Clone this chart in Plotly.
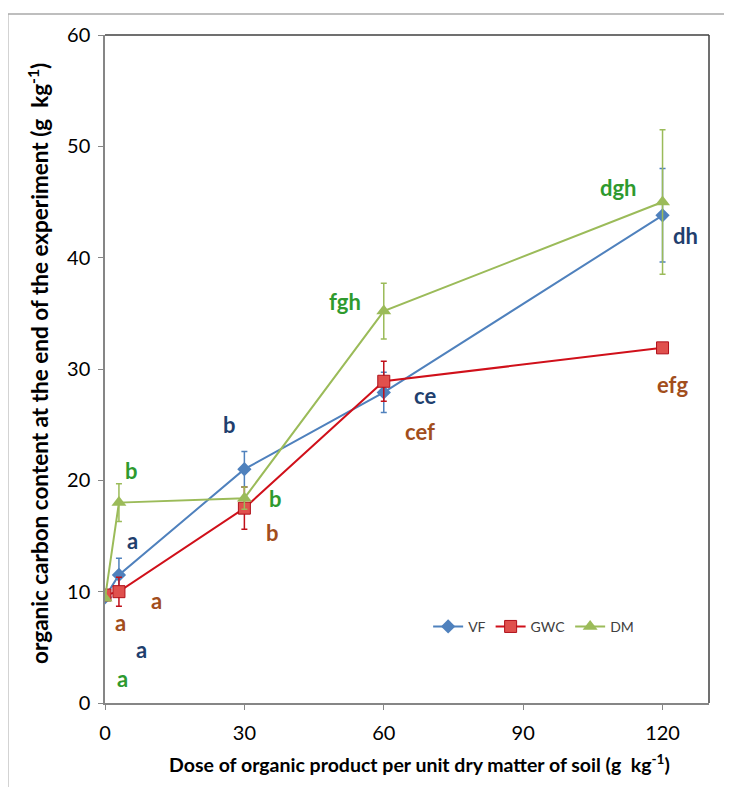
import plotly.graph_objects as go

dose = [0, 3, 30, 60, 120]

vf = [9.5, 11.5, 21.0, 27.9, 43.8]
vf_err = [0, 1.5, 1.6, 1.8, 4.2]

gwc = [9.7, 10.0, 17.5, 28.9, 31.9]
gwc_err = [0, 1.3, 1.9, 1.8, 0.4]

dm = [9.4, 18.0, 18.4, 35.2, 45.0]
dm_err = [0, 1.7, 1.0, 2.5, 6.5]

# significance letters: (x, y, text, group)
letters_x = [5.6, 6.0, 11.0, 3.4, 7.8, 3.7, 26.7, 36.8, 36.0, 51.7, 68.9, 67.8, 110.5, 124.9, 122.1]
letters_y = [20.9, 14.6, 9.2, 7.2, 4.8, 2.2, 25.0, 18.4, 15.3, 36.1, 27.6, 24.4, 46.3, 42.0, 28.6]
letters_t = ["b", "a", "a", "a", "a", "a", "b", "b", "b", "fgh", "ce", "cef", "dgh", "dh", "efg"]
letters_g = ["DM", "VF", "GWC", "GWC", "VF", "DM", "VF", "DM", "GWC", "DM", "VF", "GWC", "DM", "VF", "GWC"]

text_colors = {"VF": "#1F3F6E", "GWC": "#A24E1C", "DM": "#2E9A2E"}

fig = go.Figure()

fig.add_trace(go.Scatter(
    x=dose, y=vf, name="VF", mode="lines+markers",
    line=dict(color="#4F81BD", width=2),
    marker=dict(symbol="diamond", size=11, color="#4F81BD"),
    error_y=dict(type="data", array=vf_err, color="#4F81BD", thickness=1.5, width=3),
))
fig.add_trace(go.Scatter(
    x=dose, y=gwc, name="GWC", mode="lines+markers",
    line=dict(color="#D0101A", width=2),
    marker=dict(symbol="square", size=12, color="#E0504D", line=dict(color="#B0101A", width=1)),
    error_y=dict(type="data", array=gwc_err, color="#C0101A", thickness=1.5, width=3),
))
fig.add_trace(go.Scatter(
    x=dose, y=dm, name="DM", mode="lines+markers",
    line=dict(color="#9BBB59", width=2),
    marker=dict(symbol="triangle-up", size=13, color="#9BBB59"),
    error_y=dict(type="data", array=dm_err, color="#9BBB59", thickness=1.5, width=3),
))

for x, y, t, g in zip(letters_x, letters_y, letters_t, letters_g):
    fig.add_annotation(x=x, y=y, text="<b>%s</b>" % t, showarrow=False,
                       font=dict(family="Lato, Open Sans, sans-serif", size=22, color=text_colors[g]))

# axis titles
fig.add_annotation(xref="paper", yref="paper", x=-0.111, y=0.509,
                   xanchor="center", yanchor="middle",
                   text="<b>organic carbon content at the end of the experiment (g  kg<sup>-1</sup>)</b>",
                   textangle=-90, showarrow=False,
                   font=dict(family="Lato, Open Sans, sans-serif", size=22.5, color="#000000"))
fig.add_annotation(xref="paper", yref="paper", x=0.5215, y=-0.09,
                   xanchor="center", yanchor="middle",
                   text="<b>Dose of organic product per unit dry matter of soil (g  kg<sup>-1</sup>)</b>",
                   showarrow=False,
                   font=dict(family="Lato, Open Sans, sans-serif", size=19.5, color="#000000"))

# plot area top/right border
fig.add_shape(type="line", xref="paper", yref="paper", x0=0, x1=1, y0=1, y1=1,
              line=dict(color="#404040", width=1.5))
fig.add_shape(type="line", xref="paper", yref="paper", x0=1, x1=1, y0=0, y1=1,
              line=dict(color="#404040", width=1.5))
# outer chart frame
fig.add_shape(type="line", xref="paper", yref="paper", x0=-0.161, x1=1.1, y0=1.0314, y1=1.0314,
              line=dict(color="#A8A8A8", width=1.5))
fig.add_shape(type="line", xref="paper", yref="paper", x0=-0.161, x1=-0.161, y0=-0.2, y1=1.0314,
              line=dict(color="#A8A8A8", width=1.5))

fig.update_layout(
    width=732, height=787,
    margin=dict(l=97, r=31, t=27, b=92, autoexpand=False),
    paper_bgcolor="white", plot_bgcolor="white",
    font=dict(family="Lato, Open Sans, sans-serif", size=14, color="#000000"),
    showlegend=True,
    legend=dict(orientation="h", x=0.535, y=0.114, xanchor="left", yanchor="middle",
                font=dict(size=14, color="#404040"), bgcolor="rgba(255,255,255,0)",
                itemwidth=30, tracegroupgap=0),
    xaxis=dict(range=[0, 130], tickvals=[0, 30, 60, 90, 120], showgrid=False, zeroline=False,
               showline=True, linecolor="#868686", linewidth=1.5, ticks="outside", ticklen=5,
               tickcolor="#868686", tickfont=dict(size=20, color="#000000"),
               ticklabelstandoff=6),
    yaxis=dict(range=[0, 60], dtick=10, showgrid=False, zeroline=False,
               showline=True, linecolor="#868686", linewidth=1.5, ticks="outside", ticklen=5,
               tickcolor="#868686", tickfont=dict(size=20, color="#000000"),
               ticklabelstandoff=4),
)

fig.write_html("out.html")
